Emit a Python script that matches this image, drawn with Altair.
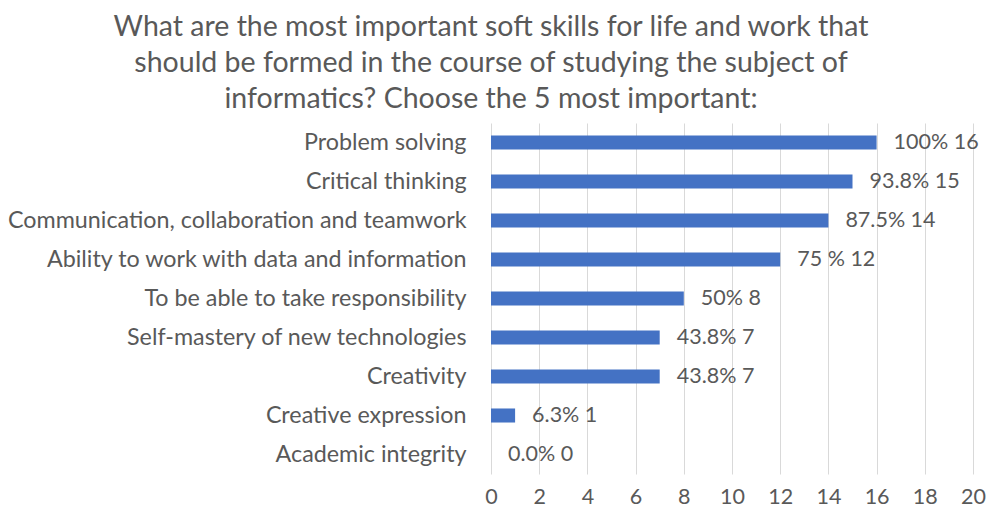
import altair as alt
import pandas as pd

skills = [
    "Problem solving",
    "Critical thinking",
    "Communication, collaboration and teamwork",
    "Ability to work with data and information ",
    "To be able to take responsibility",
    "Self-mastery of new technologies",
    "Creativity",
    "Creative expression",
    "Academic integrity",
]
counts = [16, 15, 14, 12, 8, 7, 7, 1, 0]
labels = ["100% 16", "93.8% 15", "87.5% 14", "75 % 12", "50% 8", "43.8% 7", "43.8% 7", "6.3% 1", "0.0% 0"]
x_ticks = list(range(0, 21, 2))

df = pd.DataFrame({"skill": skills, "count": counts, "label": labels})

FONT = "Lato"
GRAY = "#595959"

y = alt.Y("skill:N", sort=skills, title=None,
          scale=alt.Scale(paddingInner=0.64, paddingOuter=0.32),
          axis=alt.Axis(labelFontSize=23.3, labelColor=GRAY, labelFont=FONT,
                        ticks=False, domain=False, labelPadding=25, labelLimit=600))
x = alt.X("count:Q", title=None,
          scale=alt.Scale(domain=[0, 20], nice=False),
          axis=alt.Axis(values=x_ticks, labelFontSize=21.5, labelColor=GRAY, labelFont=FONT,
                        ticks=False, domain=False, grid=True, gridColor="#d9d9d9",
                        labelPadding=12, labelFlush=False, labelOverlap=False))

bars = alt.Chart(df).mark_bar(color="#4472C4").encode(x=x, y=y)
text = alt.Chart(df).mark_text(align="left", baseline="middle", dx=17, fontSize=21.5,
                               font=FONT, color=GRAY).encode(
    x="count:Q", y=alt.Y("skill:N", sort=skills), text="label:N")

chart = (bars + text).properties(
    width=482, height=351,
    autosize=alt.AutoSizeParams(type="none"),
    padding={"left": 483, "top": 115, "right": 16, "bottom": 36},
    title=alt.TitleParams(
        ["What are the most important soft skills for life and work that",
         "should be formed in the course of studying the subject of",
         "informatics? Choose the 5 most important:"],
        fontSize=28.5, font=FONT, color=GRAY, fontWeight="normal",
        anchor="middle", dx=-241, lineHeight=36, offset=10),
).configure_view(stroke=None)

chart.save("out.html", embed_options={"renderer": "svg", "actions": False})
